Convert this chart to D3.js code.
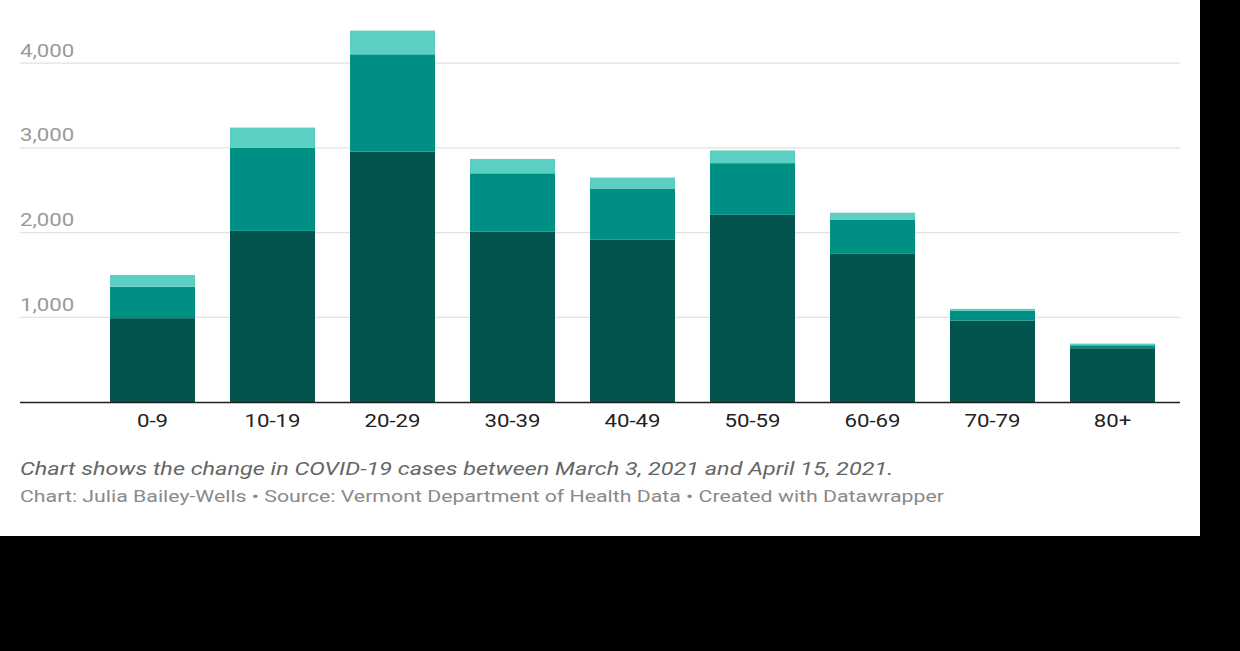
<!DOCTYPE html>
<html>
<head>
<meta charset="utf-8">
<script src="https://cdn.jsdelivr.net/npm/d3@7"></script>
<style>
  body { margin: 0; background: #000; }
  svg { display: block; font-family: Roboto, "Noto Sans", sans-serif; }
</style>
</head>
<body>
<svg id="chart" width="1240" height="651"></svg>
<script>
// age groups and stacked case counts (dark = base, then two increments)
var ageGroups = ['0-9', '10-19', '20-29', '30-39', '40-49', '50-59', '60-69', '70-79', '80+'];
var seriesKeys = ['march3', 'midperiod', 'april15'];
var march3 = [990, 2020, 2955, 2010, 1915, 2210, 1755, 960, 635];
var midperiod = [370, 980, 1150, 690, 600, 610, 400, 120, 35];
var april15 = [140, 240, 280, 170, 135, 150, 80, 20, 20];
var yTicks = [1000, 2000, 3000, 4000];

var caption = 'Chart shows the change in COVID-19 cases between March 3, 2021 and April 15, 2021.';
var credit = 'Chart: Julia Bailey-Wells \u2022 Source: Vermont Department of Health Data \u2022 Created with Datawrapper';

var colors = { march3: '#03544d', midperiod: '#008f84', april15: '#5ccfc3' };
var stretch = 1.17; // the screenshot is a bit wider than tall

var svg = d3.select('#chart');
svg.append('rect').attr('width', 1200).attr('height', 536).attr('fill', '#fff');

var left = 20, right = 1180;
var x = d3.scaleBand()
  .domain(ageGroups)
  .range([92.5, 1172.5])
  .paddingInner(35 / 120)
  .paddingOuter(35 / 240);
var y = d3.scaleLinear().domain([0, 4000]).range([402, 63.2]);

var rows = ageGroups.map(function(g, i) {
  return { group: g, march3: march3[i], midperiod: midperiod[i], april15: april15[i] };
});
var stacked = d3.stack().keys(seriesKeys)(rows);

// gridlines + tick labels
var grid = svg.append('g');
grid.selectAll('line').data(yTicks).enter().append('line')
  .attr('x1', left).attr('x2', right)
  .attr('y1', function(d) { return y(d); })
  .attr('y2', function(d) { return y(d); })
  .attr('stroke', '#e2e2e2').attr('stroke-width', 1.2);
grid.selectAll('text').data(yTicks).enter().append('text')
  .attr('transform', function(d) { return 'translate(' + left + ',' + (y(d) - 6.5) + ') scale(' + stretch + ',1)'; })
  .attr('fill', '#9a9a9a').attr('font-size', 19)
  .text(d3.format(','));

// bars
svg.append('g').selectAll('g').data(stacked).enter().append('g')
  .attr('fill', function(s) { return colors[s.key]; })
  .selectAll('rect').data(function(s) { return s; }).enter().append('rect')
  .attr('x', function(d) { return x(d.data.group); })
  .attr('width', x.bandwidth())
  .attr('y', function(d) { return y(d[1]); })
  .attr('height', function(d) { return y(d[0]) - y(d[1]); });

// baseline
svg.append('line')
  .attr('x1', left).attr('x2', right)
  .attr('y1', y(0) + 0.5).attr('y2', y(0) + 0.5)
  .attr('stroke', '#222').attr('stroke-width', 1.6);

// category labels
svg.append('g').selectAll('text').data(ageGroups).enter().append('text')
  .attr('transform', function(d) { return 'translate(' + (x(d) + x.bandwidth() / 2) + ',427) scale(' + stretch + ',1)'; })
  .attr('text-anchor', 'middle')
  .attr('fill', '#222').attr('font-size', 19)
  .text(function(d) { return d; });

// notes
svg.append('text')
  .attr('transform', 'translate(' + left + ',475) scale(1.234,1)')
  .attr('fill', '#666').attr('font-size', 19).attr('font-style', 'italic')
  .text(caption);
svg.append('text')
  .attr('transform', 'translate(' + left + ',501.5) scale(1.253,1)')
  .attr('fill', '#8a8a8a').attr('font-size', 17)
  .text(credit);
</script>
</body>
</html>
